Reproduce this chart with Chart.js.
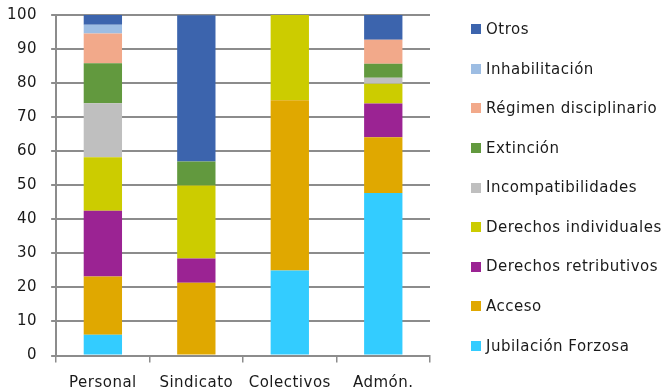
<!DOCTYPE html>
<html>
<head>
<meta charset="utf-8">
<script src="https://cdn.jsdelivr.net/npm/chart.js@4.4.1/dist/chart.umd.min.js"></script>
<style>
  html, body { margin: 0; padding: 0; background: #fff; }
  #wrap { width: 664px; height: 392px; position: relative; }
</style>
</head>
<body>
<div id="wrap"><canvas id="c" width="664" height="392"></canvas></div>
<script>
const categories = ['Personal', 'Sindicato', 'Colectivos', 'Admón.'];

const jubilacionForzosa    = [6.1, 0,    25, 47.7];
const acceso               = [17.1, 21.4, 50, 16.4];
const derechosRetributivos = [19.3, 7.1,  0,  9.9];
const derechosIndividuales = [15.7, 21.4, 25, 5.8];
const incompatibilidades   = [15.9, 0,    0,  1.8];
const extincion            = [11.7, 7.1,  0,  4.1];
const regimenDisciplinario = [8.8,  0,    0,  7.0];
const inhabilitacion       = [2.5,  0,    0,  0];
const otros                = [2.9,  42.9, 0,  7.3];

const yTicks = [0, 10, 20, 30, 40, 50, 60, 70, 80, 90, 100];

const seriesNames = ['Jubilación Forzosa', 'Acceso', 'Derechos retributivos', 'Derechos individuales',
  'Incompatibilidades', 'Extinción', 'Régimen disciplinario', 'Inhabilitación', 'Otros'];
const seriesData = [jubilacionForzosa, acceso, derechosRetributivos, derechosIndividuales,
  incompatibilidades, extincion, regimenDisciplinario, inhabilitacion, otros];
const seriesColors = ['#33CCFF', '#E0A800', '#9B2393', '#CCCC00', '#BFBFBF', '#62993E', '#F2A98A', '#9DBDE3', '#3C64AD'];

const FONT = 'DejaVu Sans';
const TEXT = '#1a1a1a';
const SPACING = '0.5px';

const spacingPlugin = {
  id: 'spacing',
  beforeInit(chart) { chart.ctx.letterSpacing = SPACING; },
  beforeLayout(chart) { chart.ctx.letterSpacing = SPACING; },
  beforeDraw(chart) { chart.ctx.letterSpacing = SPACING; }
};

// Legend drawn on the canvas at the right, Excel-style (top item = last series)
const sideLegend = {
  id: 'sideLegend',
  afterDraw(chart) {
    const ctx = chart.ctx;
    const sets = chart.data.datasets;
    const top = 29.3, step = 39.55, boxX = 471, textX = 486, box = 10;
    ctx.save();
    ctx.letterSpacing = SPACING;
    ctx.font = '15px "' + FONT + '"';
    ctx.textBaseline = 'middle';
    ctx.textAlign = 'left';
    for (let k = 0; k < sets.length; k++) {
      const ds = sets[sets.length - 1 - k];
      const cy = top + k * step;
      ctx.fillStyle = ds.backgroundColor;
      ctx.fillRect(boxX, Math.round(cy - box / 2), box, box);
      ctx.fillStyle = TEXT;
      ctx.fillText(ds.label, textX, cy + 1);
    }
    ctx.restore();
  }
};

new Chart(document.getElementById('c'), {
  type: 'bar',
  data: {
    labels: categories,
    datasets: seriesNames.map((n, i) => ({
      label: n,
      data: seriesData[i],
      backgroundColor: seriesColors[i],
      borderWidth: 0,
      barPercentage: 0.41,
      categoryPercentage: 1.0
    }))
  },
  plugins: [spacingPlugin, sideLegend],
  options: {
    responsive: false,
    animation: false,
    devicePixelRatio: 1,
    layout: { padding: { top: 0, left: -7, right: 234, bottom: 0 } },
    plugins: {
      tooltip: { enabled: false },
      legend: { display: false }
    },
    scales: {
      x: {
        stacked: true,
        afterFit: (s) => { s.height -= 11.5; },
        grid: { offset: true, drawOnChartArea: false, drawTicks: true, tickLength: 7, color: '#8c8c8c', lineWidth: 1.5 },
        border: { display: true, color: '#8c8c8c', width: 2 },
        ticks: { color: TEXT, font: { family: FONT, size: 15 }, padding: 11.5, maxRotation: 0 }
      },
      y: {
        stacked: true,
        min: 0,
        max: 100,
        afterBuildTicks: (s) => { s.ticks = yTicks.map(v => ({ value: v })); },
        afterFit: (s) => { s.paddingTop = 15; s.paddingBottom = 9; },
        grid: { color: '#8c8c8c', lineWidth: 2, tickLength: 5 },
        border: { display: true, color: '#8c8c8c', width: 2 },
        ticks: { color: TEXT, font: { family: FONT, size: 15 }, padding: 14 }
      }
    }
  }
});
</script>
</body>
</html>
